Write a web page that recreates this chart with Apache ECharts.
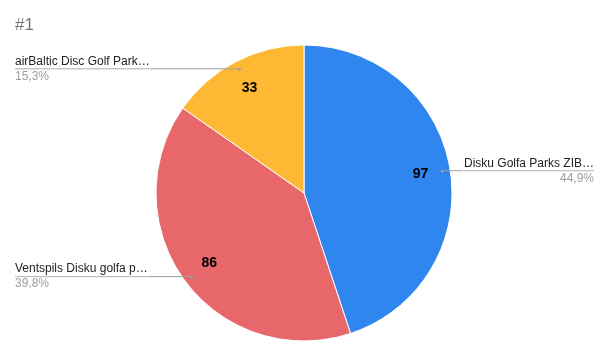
<!DOCTYPE html>
<html>
<head>
<meta charset="utf-8">
<script src="https://cdn.jsdelivr.net/npm/echarts@6/dist/echarts.min.js"></script>
<style>
html,body{margin:0;padding:0;background:#fff;}
#chart{width:609px;height:358px;}
</style>
</head>
<body>
<div id="chart"></div>
<script>
const titleText = '#1';
const categories = ['Disku Golfa Parks ZIB…', 'Ventspils Disku golfa p…', 'airBaltic Disc Golf Park…'];
const values = [97, 86, 33];
const colors = ['#2E86EE', '#E8676B', '#FDB933'];

const total = values.reduce((a, b) => a + b, 0);
const data = categories.map((c, i) => ({ name: c, value: values[i], itemStyle: { color: colors[i] } }));
const clearData = categories.map((c, i) => ({ name: c, value: values[i] }));
const fontFam = 'Liberation Sans, Arial, sans-serif';
const center = [304, 193];

const chart = echarts.init(document.getElementById('chart'), null, { renderer: 'canvas' });
chart.setOption({
  animation: false,
  title: {
    text: titleText, left: 15, top: 17, padding: 0,
    textStyle: { fontFamily: fontFam, fontSize: 17, fontWeight: 'normal', color: '#757575' }
  },
  series: [
    {
      type: 'pie', center: center, radius: 148, silent: true, z: 2,
      data: data,
      label: { show: false }, labelLine: { show: false },
      itemStyle: { borderColor: '#fff', borderWidth: 1 },
      emphasis: { disabled: true }
    },
    {
      type: 'pie', center: center, radius: [82, 148], silent: true, z: 3,
      data: clearData,
      itemStyle: { color: 'transparent' },
      label: { show: true, position: 'inside', formatter: '{c}', fontFamily: fontFam, fontSize: 14, fontWeight: 'bold', color: '#000' },
      labelLine: { show: false },
      emphasis: { disabled: true }
    },
    {
      type: 'pie', center: center, radius: [0, 140], silent: true, z: 4,
      data: clearData,
      itemStyle: { color: 'transparent' },
      label: {
        show: true, position: 'outside', alignTo: 'edge', edgeDistance: 15, distanceToLabelLine: 0,
        formatter: p => '{n|' + p.name + '}\n{hr|}\n{p|' + (p.value / total * 100).toFixed(1).replace('.', ',') + '%}',
        rich: {
          n: { fontFamily: fontFam, fontSize: 12, color: '#222', lineHeight: 15 },
          hr: { width: '100%', height: 0, borderColor: '#9e9e9e', borderWidth: 0.5 },
          p: { fontFamily: fontFam, fontSize: 12, color: '#9e9e9e', lineHeight: 15 }
        }
      },
      labelLine: { show: true, length: 0.01, length2: 10, lineStyle: { color: '#9e9e9e', width: 1 } },
      emphasis: { disabled: true }
    },
    {
      type: 'pie', center: center, radius: [133, 141], silent: true, z: 5,
      data: clearData,
      itemStyle: { color: 'transparent' },
      label: { show: true, position: 'inside', formatter: '●', fontSize: 7, color: '#9e9e9e' },
      labelLine: { show: false },
      emphasis: { disabled: true }
    }
  ]
});
</script>
</body>
</html>
